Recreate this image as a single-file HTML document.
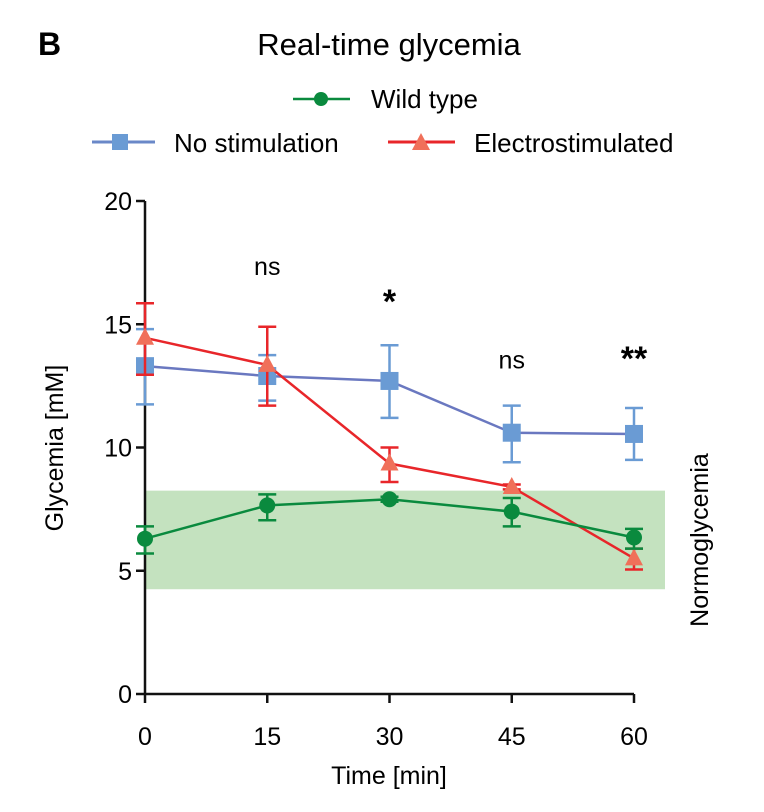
<!DOCTYPE html>
<html><head><meta charset="utf-8"><style>
body{margin:0;background:#fff;}
svg{display:block;font-family:"Liberation Sans",Arial,sans-serif;}
</style></head><body>
<svg id="c" width="764" height="812" viewBox="0 0 764 812">
<text x="38" y="55" font-size="32" font-weight="bold">B</text>
<text x="389" y="55" font-size="31" text-anchor="middle">Real-time glycemia</text>
<g>
<g>
<line x1="293" y1="99" x2="350" y2="99" stroke="#0a8a3e" stroke-width="2.5"/><circle cx="321" cy="99" r="7" fill="#0a8a3e"/>
<text x="371" y="108" font-size="26">Wild type</text></g>
<g>
<line x1="92" y1="142" x2="155" y2="142" stroke="#6a88c8" stroke-width="3"/><rect x="112" y="134" width="16" height="16" fill="#6a9bd4"/>
<text x="174" y="152" font-size="26">No stimulation</text></g>
<g>
<line x1="388" y1="142" x2="455" y2="142" stroke="#e8262a" stroke-width="3"/><polygon points="421,133 430,150 412,150" fill="#f0705a"/>
<text x="474" y="152" font-size="26">Electrostimulated</text></g>
</g>
<g id="plot"></g>
<text transform="translate(63,448) rotate(-90)" font-size="25" text-anchor="middle">Glycemia [mM]</text>
<text x="389" y="784" font-size="25" text-anchor="middle">Time [min]</text>
<text transform="translate(708,540) rotate(-90)" font-size="25" text-anchor="middle">Normoglycemia</text>
</svg>
<script>
const times=[0,15,30,45,60];
const yTicks=[0,5,10,15,20];
const noStim=[13.3,12.9,12.7,10.6,10.55];
const noStimHi=[14.8,13.75,14.15,11.7,11.6];
const noStimLo=[11.75,11.9,11.2,9.4,9.5];
const elec=[14.45,13.35,9.35,8.4,5.5];
const elecHi=[15.85,14.9,10.0,8.5,5.9];
const elecLo=[12.95,11.7,8.6,8.3,5.05];
const wt=[6.3,7.65,7.9,7.4,6.35];
const wtHi=[6.8,8.1,8.0,7.95,6.7];
const wtLo=[5.7,7.05,7.8,6.8,5.9];
const band=[4.25,8.25];
const sig=['ns','ns','*','ns','**'];
const sigY=[null,17.0,16.1,13.2,13.8];
const NS='http://www.w3.org/2000/svg';
const X=t=>145+t*(489/60), Y=v=>694-v*(493/20);
const g=document.getElementById('plot');
function mk(tag,a,p){const e=document.createElementNS(NS,tag);for(const k in a)e.setAttribute(k,a[k]);(p||g).appendChild(e);return e;}
const b=mk('rect',{x:145,y:Y(band[1]),width:520,height:Y(band[0])-Y(band[1]),fill:'#c4e2bf'});


const ax=mk('g',{});


mk('line',{x1:145,y1:Y(20),x2:145,y2:694,stroke:'#111','stroke-width':2.5},ax);
mk('line',{x1:145,y1:694,x2:634,y2:694,stroke:'#111','stroke-width':2.5},ax);
yTicks.forEach(v=>{mk('line',{x1:136,y1:Y(v),x2:145,y2:Y(v),stroke:'#111','stroke-width':2.5},ax);
 const t=mk('text',{x:132,y:Y(v)+9,'font-size':25,'text-anchor':'end'},ax);t.textContent=v;});
times.forEach(v=>{mk('line',{x1:X(v),y1:694,x2:X(v),y2:703,stroke:'#111','stroke-width':2.5},ax);
 const t=mk('text',{x:X(v),y:745,'font-size':25,'text-anchor':'middle'},ax);t.textContent=v;});
function series(name,vals,hi,lo,col,lineCol,marker,mcol){
 const s=mk('g',{});
 
 
 mk('polyline',{points:vals.map((v,i)=>X(times[i])+','+Y(v)).join(' '),fill:'none',stroke:lineCol,'stroke-width':2.5},s);
 vals.forEach((v,i)=>{const x=X(times[i]);
  mk('line',{x1:x,y1:Y(hi[i]),x2:x,y2:Y(lo[i]),stroke:col,'stroke-width':2.5},s);
  [hi[i],lo[i]].forEach(e=>mk('line',{x1:x-9,y1:Y(e),x2:x+9,y2:Y(e),stroke:col,'stroke-width':2.5},s));
  const y=Y(v);
  if(marker==='c')mk('circle',{cx:x,cy:y,r:8,fill:mcol},s);
  else if(marker==='s')mk('rect',{x:x-9,y:y-9,width:18,height:18,fill:mcol},s);
  else mk('polygon',{points:`${x},${y-10} ${x+9},${y+7} ${x-9},${y+7}`,fill:mcol},s);
 });
}
series('series-no-stimulation',noStim,noStimHi,noStimLo,'#6a9bd4','#6a78c0','s','#6a9bd4');
series('series-electrostimulated',elec,elecHi,elecLo,'#e8262a','#e8262a','t','#f0705a');
series('series-wild-type',wt,wtHi,wtLo,'#0a8a3e','#0a8a3e','c','#0a8a3e');
sig.forEach((s,i)=>{if(sigY[i]==null)return;
 const t=mk('text',{x:X(times[i]),y:Y(sigY[i])+(s.includes('*')?16:0),'font-size':s.includes('*')?34:25,'text-anchor':'middle','font-weight':s.includes('*')?'bold':'normal'});
 t.textContent=s;
 
 
});
</script>
</body></html>
